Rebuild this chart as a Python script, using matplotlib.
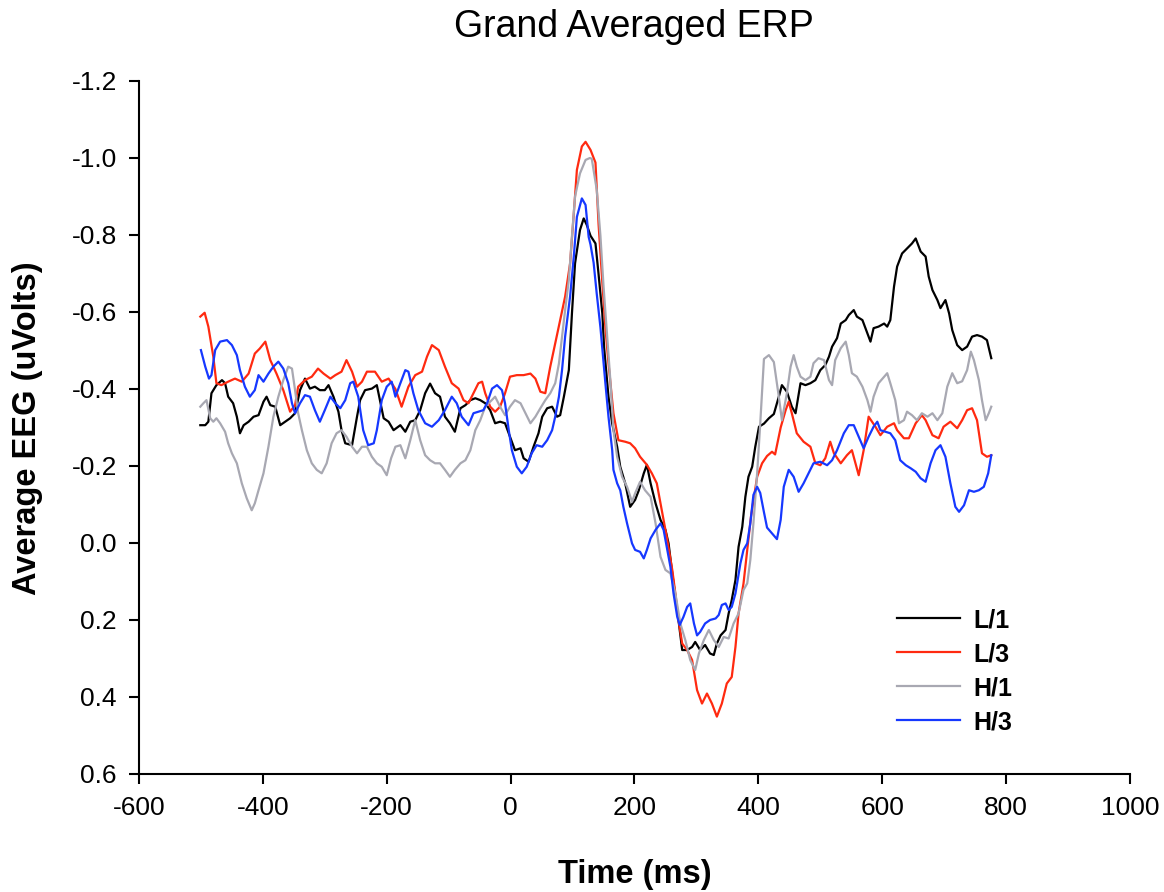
# Grand averaged ERP plot, four conditions
import matplotlib
matplotlib.use("Agg")
import matplotlib.pyplot as plt

plt.rcParams["font.family"] = ["Liberation Sans", "DejaVu Sans"]

# Data, time in ms, amplitude in uV
L1_T = [-501, -493, -488, -483, -475, -466, -461, -456, -448, -442, -437, -431, -423, -415, -407,
        -399, -394, -388, -380, -372, -364, -356, -348, -340, -332, -324, -316, -308, -300, -294,
        -286, -278, -273, -267, -256, -248, -243, -235, -224, -216, -211, -205, -197, -189, -178,
        -170, -162, -154, -146, -138, -130, -122, -114, -106, -98, -90, -81, -73, -65, -57, -49,
        -41, -33, -25, -17, -9, -1, 7, 16, 21, 29, 37, 45, 51, 59, 67, 75, 80, 86, 94, 99, 104,
        112, 118, 123, 129, 137, 142, 148, 151, 158, 164, 172, 177, 185, 193, 201, 207, 215, 220,
        226, 234, 242, 250, 255, 261, 266, 271, 277, 285, 293, 298, 306, 314, 322, 328, 333, 339,
        347, 352, 357, 363, 368, 374, 379, 384, 390, 395, 401, 409, 417, 425, 433, 438, 446, 454,
        460, 468, 476, 484, 492, 500, 508, 514, 519, 527, 533, 541, 546, 554, 559, 568, 576, 581,
        586, 594, 603, 608, 613, 619, 624, 632, 640, 648, 654, 662, 670, 675, 681, 689, 694, 702,
        708, 713, 721, 729, 737, 745, 753, 761, 769, 776]
L1_V = [-0.306, -0.306, -0.315, -0.389, -0.41, -0.423, -0.415, -0.38, -0.363, -0.328, -0.285,
        -0.306, -0.315, -0.328, -0.332, -0.367, -0.38, -0.358, -0.354, -0.306, -0.315, -0.324,
        -0.337, -0.397, -0.427, -0.401, -0.406, -0.397, -0.397, -0.41, -0.38, -0.341, -0.293,
        -0.259, -0.254, -0.328, -0.371, -0.397, -0.401, -0.41, -0.371, -0.324, -0.315, -0.293,
        -0.306, -0.289, -0.315, -0.319, -0.345, -0.389, -0.414, -0.389, -0.38, -0.328, -0.311,
        -0.289, -0.35, -0.358, -0.371, -0.376, -0.371, -0.363, -0.345, -0.311, -0.315, -0.311,
        -0.276, -0.241, -0.246, -0.22, -0.211, -0.25, -0.285, -0.328, -0.35, -0.354, -0.328,
        -0.332, -0.38, -0.449, -0.596, -0.726, -0.813, -0.843, -0.826, -0.798, -0.778, -0.698,
        -0.597, -0.507, -0.38, -0.31, -0.25, -0.198, -0.155, -0.094, -0.112, -0.137, -0.181,
        -0.203, -0.155, -0.103, -0.06, -0.034, 0.001, 0.079, 0.14, 0.2, 0.278, 0.278, 0.27,
        0.257, 0.278, 0.265, 0.287, 0.291, 0.261, 0.24, 0.226, 0.183, 0.148, 0.096, 0.01, -0.042,
        -0.12, -0.172, -0.198, -0.25, -0.302, -0.31, -0.324, -0.335, -0.38, -0.41, -0.393, -0.354,
        -0.337, -0.415, -0.41, -0.415, -0.423, -0.449, -0.462, -0.484, -0.51, -0.532, -0.57,
        -0.579, -0.592, -0.605, -0.588, -0.579, -0.545, -0.523, -0.558, -0.562, -0.57, -0.562,
        -0.579, -0.666, -0.718, -0.752, -0.765, -0.778, -0.791, -0.757, -0.744, -0.692, -0.657,
        -0.631, -0.61, -0.631, -0.596, -0.553, -0.514, -0.501, -0.51, -0.536, -0.54, -0.536,
        -0.527, -0.48]

L3_T = [-501, -494, -488, -480, -475, -467, -456, -445, -434, -423, -413, -405, -396, -388, -378,
        -367, -356, -348, -343, -332, -321, -311, -302, -291, -283, -273, -265, -256, -248, -240,
        -232, -219, -208, -197, -186, -176, -165, -154, -143, -135, -127, -116, -106, -95, -84,
        -76, -68, -60, -52, -46, -41, -33, -25, -17, -9, -1, 10, 21, 32, 40, 48, 56, 64, 72, 80,
        88, 96, 102, 107, 115, 121, 129, 137, 142, 148, 153, 158, 166, 174, 185, 193, 201, 209,
        220, 228, 236, 244, 252, 261, 266, 271, 277, 285, 293, 301, 309, 317, 325, 333, 341, 349,
        357, 363, 368, 376, 382, 388, 398, 406, 414, 422, 427, 436, 444, 449, 454, 462, 473, 484,
        492, 500, 508, 516, 522, 533, 543, 551, 562, 570, 578, 589, 597, 608, 619, 624, 635, 643,
        654, 664, 670, 681, 691, 699, 710, 721, 729, 737, 745, 753, 761, 769, 776]
L3_V = [-0.588, -0.598, -0.562, -0.484, -0.415, -0.41, -0.419, -0.427, -0.419, -0.44, -0.492,
        -0.505, -0.523, -0.475, -0.44, -0.397, -0.341, -0.358, -0.406, -0.423, -0.432, -0.453,
        -0.44, -0.427, -0.436, -0.445, -0.475, -0.445, -0.406, -0.419, -0.445, -0.445, -0.419,
        -0.427, -0.4, -0.354, -0.406, -0.436, -0.445, -0.484, -0.514, -0.501, -0.458, -0.415,
        -0.401, -0.371, -0.363, -0.389, -0.415, -0.419, -0.389, -0.354, -0.341, -0.354, -0.389,
        -0.432, -0.436, -0.436, -0.44, -0.427, -0.393, -0.389, -0.458, -0.518, -0.579, -0.64,
        -0.726, -0.856, -0.969, -1.03, -1.042, -1.021, -0.988, -0.828, -0.678, -0.56, -0.467,
        -0.337, -0.267, -0.263, -0.259, -0.246, -0.224, -0.203, -0.181, -0.155, -0.086, -0.016,
        0.07, 0.131, 0.2, 0.261, 0.278, 0.304, 0.382, 0.417, 0.391, 0.417, 0.451, 0.417, 0.365,
        0.348, 0.27, 0.183, 0.105, 0.018, -0.068, -0.172, -0.207, -0.226, -0.237, -0.23, -0.3,
        -0.345, -0.367, -0.337, -0.285, -0.263, -0.25, -0.207, -0.202, -0.22, -0.263, -0.233,
        -0.207, -0.228, -0.241, -0.176, -0.241, -0.328, -0.302, -0.28, -0.302, -0.311, -0.293,
        -0.272, -0.272, -0.311, -0.332, -0.319, -0.28, -0.272, -0.302, -0.315, -0.298, -0.319,
        -0.345, -0.35, -0.319, -0.233, -0.224, -0.228]

H1_T = [-501, -496, -491, -485, -480, -475, -469, -461, -456, -450, -442, -434, -426, -418, -413,
        -407, -399, -391, -383, -375, -367, -359, -353, -348, -343, -337, -329, -321, -313, -305,
        -297, -289, -281, -273, -265, -256, -248, -240, -232, -224, -216, -208, -200, -193, -186,
        -178, -170, -162, -154, -146, -138, -130, -122, -114, -106, -98, -90, -81, -73, -65, -57,
        -49, -41, -33, -25, -17, -9, -1, 7, 16, 24, 32, 40, 48, 56, 64, 72, 78, 83, 88, 94, 99,
        104, 112, 121, 128, 131, 139, 145, 150, 154, 161, 166, 172, 180, 188, 196, 201, 209, 217,
        226, 234, 242, 250, 258, 266, 274, 282, 290, 298, 304, 312, 320, 328, 336, 344, 352, 360,
        368, 376, 382, 387, 392, 398, 403, 409, 417, 425, 433, 438, 446, 452, 457, 462, 468, 476,
        484, 489, 497, 506, 514, 519, 524, 533, 541, 546, 551, 559, 568, 576, 581, 586, 594, 603,
        608, 613, 621, 627, 635, 640, 648, 656, 664, 673, 681, 689, 697, 705, 713, 721, 729, 737,
        743, 748, 756, 761, 767, 772, 776]
H1_V = [-0.354, -0.363, -0.371, -0.324, -0.315, -0.324, -0.311, -0.289, -0.259, -0.233, -0.207,
        -0.155, -0.116, -0.085, -0.103, -0.137, -0.181, -0.25, -0.328, -0.38, -0.423, -0.458,
        -0.453, -0.397, -0.337, -0.293, -0.241, -0.207, -0.19, -0.181, -0.207, -0.259, -0.285,
        -0.293, -0.276, -0.25, -0.233, -0.25, -0.25, -0.224, -0.207, -0.198, -0.176, -0.22,
        -0.25, -0.254, -0.22, -0.267, -0.319, -0.267, -0.228, -0.215, -0.207, -0.207, -0.19,
        -0.172, -0.19, -0.207, -0.215, -0.241, -0.293, -0.319, -0.354, -0.367, -0.38, -0.354,
        -0.332, -0.354, -0.371, -0.363, -0.337, -0.311, -0.328, -0.35, -0.371, -0.389, -0.415,
        -0.466, -0.536, -0.605, -0.683, -0.796, -0.9, -0.96, -0.995, -1.0, -0.998, -0.918,
        -0.798, -0.667, -0.577, -0.423, -0.293, -0.224, -0.172, -0.146, -0.107, -0.129, -0.159,
        -0.137, -0.12, -0.051, 0.036, 0.07, 0.079, 0.131, 0.209, 0.252, 0.304, 0.33, 0.287,
        0.252, 0.226, 0.252, 0.27, 0.244, 0.248, 0.209, 0.183, 0.122, 0.105, 0.044, -0.051,
        -0.181, -0.31, -0.478, -0.488, -0.47, -0.38, -0.319, -0.389, -0.458, -0.488, -0.458,
        -0.432, -0.423, -0.432, -0.467, -0.48, -0.475, -0.423, -0.41, -0.475, -0.506, -0.523,
        -0.488, -0.441, -0.432, -0.406, -0.371, -0.341, -0.38, -0.415, -0.432, -0.441, -0.415,
        -0.371, -0.311, -0.319, -0.341, -0.332, -0.319, -0.337, -0.328, -0.337, -0.319, -0.337,
        -0.406, -0.441, -0.415, -0.42, -0.449, -0.497, -0.475, -0.423, -0.371, -0.319, -0.337,
        -0.354]

H3_T = [-500, -493, -487, -483, -477, -469, -458, -450, -442, -437, -429, -421, -413, -407, -399,
        -391, -383, -375, -367, -359, -353, -348, -340, -332, -324, -316, -308, -300, -291, -283,
        -275, -267, -259, -254, -246, -238, -230, -221, -216, -208, -200, -192, -186, -178, -170,
        -165, -157, -149, -138, -127, -116, -106, -95, -87, -79, -68, -60, -52, -44, -38, -30,
        -22, -14, -9, -3, 2, 10, 18, 26, 34, 42, 51, 59, 67, 72, 78, 83, 88, 96, 102, 107, 115,
        121, 126, 129, 134, 139, 145, 153, 158, 164, 166, 172, 177, 182, 188, 196, 201, 209, 215,
        220, 226, 234, 242, 247, 252, 258, 263, 269, 273, 279, 285, 290, 296, 301, 306, 314, 322,
        331, 336, 341, 347, 352, 357, 363, 371, 376, 382, 387, 392, 398, 403, 409, 414, 422, 430,
        436, 441, 449, 457, 465, 473, 481, 489, 500, 511, 519, 527, 538, 546, 554, 562, 570, 578,
        586, 592, 597, 605, 613, 621, 629, 638, 646, 654, 662, 670, 678, 686, 694, 702, 710, 718,
        724, 732, 740, 748, 756, 764, 771, 776]
H3_V = [-0.501, -0.458, -0.427, -0.436, -0.501, -0.523, -0.527, -0.514, -0.488, -0.449, -0.406,
        -0.38, -0.397, -0.436, -0.419, -0.44, -0.458, -0.471, -0.453, -0.415, -0.363, -0.337,
        -0.363, -0.384, -0.38, -0.345, -0.315, -0.345, -0.38, -0.363, -0.35, -0.371, -0.415,
        -0.419, -0.38, -0.293, -0.254, -0.259, -0.293, -0.371, -0.406, -0.419, -0.38, -0.415,
        -0.449, -0.445, -0.389, -0.345, -0.311, -0.302, -0.319, -0.345, -0.38, -0.363, -0.328,
        -0.306, -0.337, -0.341, -0.345, -0.363, -0.401, -0.41, -0.397, -0.363, -0.293, -0.241,
        -0.198, -0.181, -0.198, -0.233, -0.254, -0.25, -0.267, -0.293, -0.328, -0.38, -0.449,
        -0.536, -0.64, -0.744, -0.847, -0.895, -0.878, -0.795, -0.775, -0.728, -0.648, -0.56,
        -0.415, -0.328, -0.241, -0.19, -0.155, -0.137, -0.094, -0.051, 0.001, 0.018, 0.023, 0.04,
        0.018, -0.012, -0.034, -0.051, -0.034, 0.01, 0.062, 0.131, 0.192, 0.213, 0.192, 0.166,
        0.157, 0.209, 0.24, 0.231, 0.209, 0.2, 0.196, 0.187, 0.161, 0.157, 0.174, 0.166, 0.131,
        0.053, 0.018, 0.001, -0.051, -0.125, -0.146, -0.13, -0.08, -0.04, -0.025, -0.01, -0.06,
        -0.146, -0.19, -0.172, -0.133, -0.155, -0.181, -0.207, -0.211, -0.202, -0.215, -0.241,
        -0.285, -0.306, -0.306, -0.276, -0.246, -0.276, -0.302, -0.315, -0.293, -0.289, -0.285,
        -0.267, -0.215, -0.202, -0.194, -0.185, -0.168, -0.159, -0.207, -0.241, -0.254, -0.224,
        -0.155, -0.094, -0.081, -0.098, -0.137, -0.133, -0.137, -0.146, -0.181, -0.228]

SERIES = [
    ("L/1", L1_T, L1_V, "#000000"),
    ("L/3", L3_T, L3_V, "#ff2a10"),
    ("H/1", H1_T, H1_V, "#a8a8b2"),
    ("H/3", H3_T, H3_V, "#1638ff"),
]

X_TICKS = [-600, -400, -200, 0, 200, 400, 600, 800, 1000]
Y_TICKS = [-1.2, -1.0, -0.8, -0.6, -0.4, -0.2, 0.0, 0.2, 0.4, 0.6]


fig = plt.figure(figsize=(11.64, 8.92), dpi=100)
ax = fig.add_axes([0.1194, 0.1323, 0.8514, 0.7769])

for name, t, v, color in SERIES:
    ax.plot(t, v, color=color, linewidth=1.6, label=name)

# Axes: negative up, as is usual for ERPs
ax.set_xlim(-600, 1000)
ax.set_ylim(0.6, -1.2)
ax.set_xticks(X_TICKS)
ax.set_xticklabels([str(x) for x in X_TICKS])
ax.set_yticks(Y_TICKS)
ax.set_yticklabels([f"{abs(y):.1f}" if y == 0 else f"{y:.1f}" for y in Y_TICKS])

for side in ("top", "right"):
    ax.spines[side].set_visible(False)
for side in ("left", "bottom"):
    ax.spines[side].set_linewidth(1.5)
ax.tick_params(direction="out", length=7, width=1.5, labelsize=19, pad=9)

# Texts
fig.text(0.545, 1 - 27 / 892, "Grand Averaged ERP", fontsize=27, ha="center", va="center")
fig.text(0.545, 1 - 874 / 892, "Time (ms)", fontsize=23.5, fontweight="bold",
         ha="center", va="center")
fig.text(0.024, 1 - 428 / 892, "Average EEG (uVolts)", fontsize=23.5, fontweight="bold",
         rotation=90, ha="center", va="center")

ax.legend(loc="center left", bbox_to_anchor=(0.765, 0.1486), frameon=False,
          prop={"size": 18, "weight": "bold"}, handlelength=2.5, handletextpad=0.55,
          labelspacing=0.4, borderpad=0, borderaxespad=0)

fig.savefig("out.png", dpi=100)
